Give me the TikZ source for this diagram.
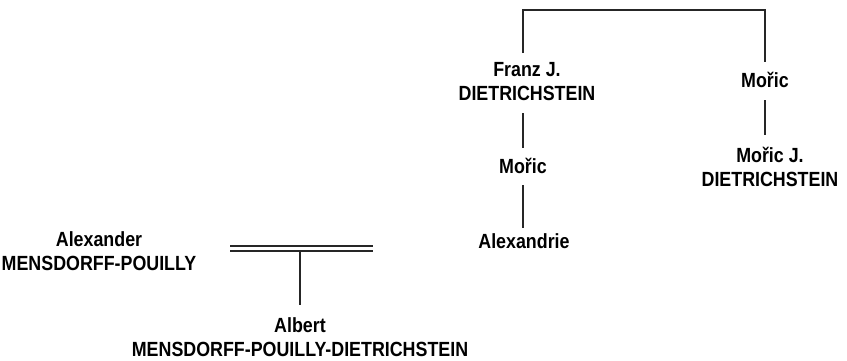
\documentclass[tikz,border=0pt]{standalone}
\usepackage{fontspec}
\setmainfont{Liberation Sans}[FakeStretch=0.87]
\begin{document}
\begin{tikzpicture}[x=1pt,y=-1pt,
  person/.style={font=\bfseries\fontsize{20.5}{24}\selectfont, align=center, inner sep=0pt},
  line/.style={line width=1.8pt, draw=black!85}]
\useasboundingbox (0,0) rectangle (847,360);
\node[person] (franz) at (527,82) {Franz J.\\DIETRICHSTEIN};
\node[person] (moric1) at (523,166) {Mořic};
\node[person] (alexandrie) at (524,241) {Alexandrie};
\node[person] (moric2) at (765,80) {Mořic};
\node[person] (moricj) at (770,167) {Mořic J.\\DIETRICHSTEIN};
\node[person] (alexander) at (99,251) {Alexander\\MENSDORFF-POUILLY};
\node[person] (albert) at (300,337) {Albert\\MENSDORFF-POUILLY-DIETRICHSTEIN};
\coordinate (tl) at (523,10);
\coordinate (tr) at (765,10);
\coordinate (m1) at (230,246);
\coordinate (m2) at (373,246);
\coordinate (m3) at (230,251);
\coordinate (m4) at (373,251);
\coordinate (mc) at (300,251);
\draw[line] (523,53) -- (tl) -- (tr) -- (765,62);
\draw[line] (523,113) -- (523,148);
\draw[line] (523,185) -- (523,228);
\draw[line] (765,100) -- (765,135);
\draw[line] (m1) -- (m2);
\draw[line] (m3) -- (m4);
\draw[line] (mc) -- (300,305);
\end{tikzpicture}
\end{document}
